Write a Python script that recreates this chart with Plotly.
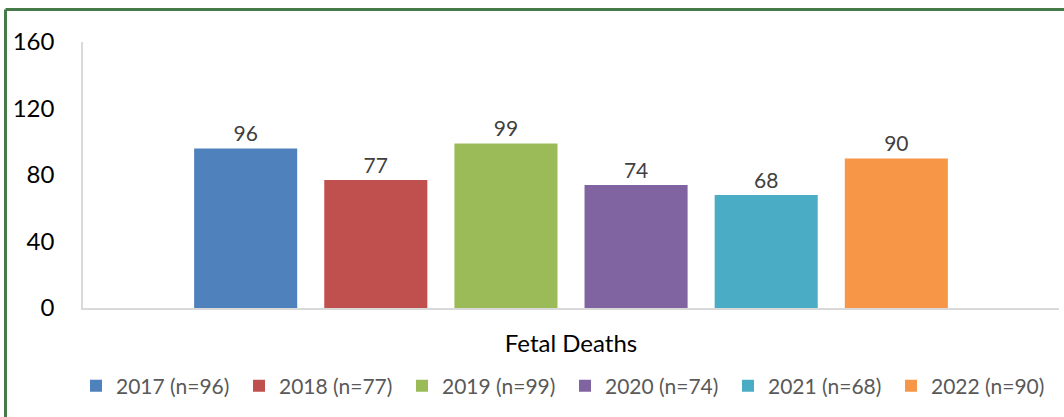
import plotly.graph_objects as go

category = ["Fetal Deaths"]
series_names = ["2017 (n=96)", "2018 (n=77)", "2019 (n=99)", "2020 (n=74)", "2021 (n=68)", "2022 (n=90)"]
values = [96, 77, 99, 74, 68, 90]
colors = ["#4f81bd", "#c0504d", "#9bbb59", "#8064a2", "#4bacc6", "#f79646"]
y_ticks = [0, 40, 80, 120, 160]

FONT = "Lato, Carlito, Calibri, sans-serif"

fig = go.Figure()
for name, v, c in zip(series_names, values, colors):
    fig.add_trace(go.Bar(
        x=category, y=[v], name=name, marker=dict(color=c, line=dict(width=0)),
        text=[str(v)], textposition="outside", cliponaxis=False,
        textfont=dict(family=FONT, size=21, color="#404040"),
    ))

W, H = 1064, 417
L, R, T, B = 83, 5, 42, 109
pw, ph = W - L - R, H - T - B

def px(x):
    return (x - L) / pw

def py(y):
    return (H - B - y) / ph

border = "#467a48"
shapes = [
    dict(type="line", xref="paper", yref="paper", x0=px(5.5), x1=px(1064), y0=py(9.5), y1=py(9.5),
         line=dict(color=border, width=3)),
    dict(type="line", xref="paper", yref="paper", x0=px(5.5), x1=px(5.5), y0=py(9.5), y1=py(420),
         line=dict(color=border, width=3)),
]

fig.update_layout(
    width=W, height=H,
    margin=dict(l=L, r=R, t=T, b=B, autoexpand=False),
    paper_bgcolor="white", plot_bgcolor="white",
    barmode="group", bargap=0.2, bargroupgap=0.208,
    font=dict(family=FONT, size=20, color="#000000"),
    showlegend=True,
    legend=dict(orientation="h", x=px(76), xanchor="left", y=py(386), yanchor="middle",
                font=dict(family=FONT, size=21, color="#595959"),
                entrywidth=118, entrywidthmode="pixels", itemclick=False,
                traceorder="normal", bgcolor="rgba(0,0,0,0)"),
    xaxis=dict(showline=True, linecolor="#d9d9d9", linewidth=1.5, showgrid=False,
               ticks="", tickfont=dict(family=FONT, size=24, color="#000000"),
               ticklabelstandoff=13, fixedrange=True),
    yaxis=dict(range=[0, 160], tickvals=y_ticks, showline=True, linecolor="#d9d9d9", linewidth=1.5,
               showgrid=False, zeroline=False, ticks="",
               tickfont=dict(family=FONT, size=24, color="#000000"),
               ticklabelstandoff=22, fixedrange=True),
    shapes=shapes,
)

fig.write_html("out.html", config={"displayModeBar": False},
               post_script="document.body.style.margin='0';")
